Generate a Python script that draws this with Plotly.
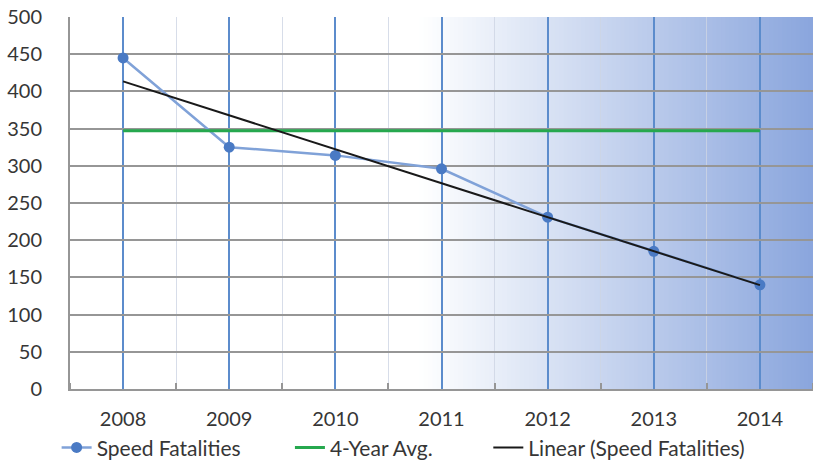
import numpy as np
import plotly.graph_objects as go

# --- data ---
years = [2008, 2009, 2010, 2011, 2012, 2013, 2014]
speed_fatalities = [445, 325, 314, 296, 231, 185, 140]
four_year_avg = [347, 347, 347, 347, 347, 347, 347]
y_ticks = [0, 50, 100, 150, 200, 250, 300, 350, 400, 450, 500]

# linear trend fitted to the fatalities series
slope, intercept = np.polyfit(years, speed_fatalities, 1)
trend = [slope * yr + intercept for yr in years]

FONT = "Lato"
TEXT = "#363636"

fig = go.Figure()

fig.add_trace(go.Scatter(
    x=years, y=speed_fatalities, name="Speed Fatalities",
    mode="lines+markers",
    line=dict(color="rgb(128,162,216)", width=2.5),
    marker=dict(color="rgb(74,122,196)", size=11),
    legend="legend",
))
fig.add_trace(go.Scatter(
    x=years, y=four_year_avg, name="4-Year Avg.",
    mode="lines", line=dict(color="rgb(38,168,78)", width=3),
    legend="legend2",
))
fig.add_trace(go.Scatter(
    x=years, y=trend, name="Linear (Speed Fatalities)",
    mode="lines", line=dict(color="rgb(25,25,25)", width=2),
    legend="legend3",
))

# white-to-blue horizontal gradient over the right half of the plot area
shapes = []
g0, steps = 0.47, 90
end_rgb = (138, 166, 221)
for i in range(steps):
    a = g0 + (1 - g0) * i / steps
    b = g0 + (1 - g0) * (i + 1) / steps
    t = (i + 0.5) / steps
    c = tuple(round(255 + (e - 255) * t) for e in end_rgb)
    shapes.append(dict(
        type="rect", xref="x domain", yref="y domain",
        x0=a, x1=b + 0.002, y0=0, y1=1,
        fillcolor="rgb(%d,%d,%d)" % c, line=dict(width=0), layer="below",
    ))

legend_common = dict(
    orientation="h", yanchor="middle", y=-0.158, xanchor="left",
    font=dict(family=FONT, size=21, color=TEXT),
    bgcolor="rgba(0,0,0,0)", itemwidth=30,
)

fig.update_layout(
    width=813, height=464,
    margin=dict(l=70, r=0, t=17, b=75, autoexpand=False),
    paper_bgcolor="white", plot_bgcolor="white",
    shapes=shapes,
    showlegend=True,
    legend=dict(x=-0.018, **legend_common),
    legend2=dict(x=0.296, **legend_common),
    legend3=dict(x=0.563, **legend_common),
    xaxis=dict(
        range=[2007.5, 2014.5], tickvals=years, ticktext=[str(y) for y in years],
        showgrid=True, gridcolor="rgb(92,140,204)", gridwidth=2,
        showline=True, linecolor="rgb(150,150,150)", linewidth=2,
        ticks="", ticklabelstandoff=11,
        tickfont=dict(family=FONT, size=20, color=TEXT),
        minor=dict(tick0=2007.5, dtick=1, showgrid=True,
                   gridcolor="rgba(205,212,228,0.8)", gridwidth=1,
                   ticks="inside", ticklen=6, tickcolor="rgb(150,150,150)",
                   tickwidth=2),
        zeroline=False, fixedrange=True,
    ),
    yaxis=dict(
        range=[0, 500], tickvals=y_ticks,
        showgrid=True, gridcolor="rgb(150,150,150)", gridwidth=2,
        showline=True, linecolor="rgb(150,150,150)", linewidth=2,
        ticks="", ticklabelstandoff=22,
        tickfont=dict(family=FONT, size=20, color=TEXT),
        zeroline=False, fixedrange=True,
    ),
)

fig.write_html("out.html")
